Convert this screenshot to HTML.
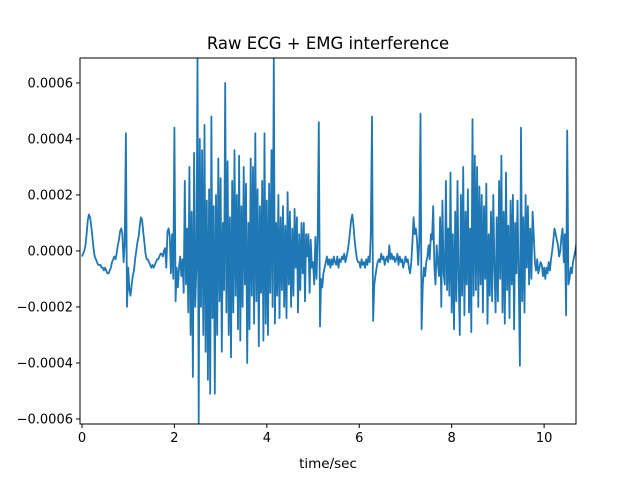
<!DOCTYPE html>
<html><head><meta charset="utf-8"><style>
body{margin:0;background:#fff}
svg{font-family:"DejaVu Sans","Liberation Sans",sans-serif}
</style></head><body>
<svg id="c" width="640" height="480">
<rect width="640" height="480" fill="#fff"/>
<text x="328" y="49" text-anchor="middle" font-size="16.5">Raw ECG + EMG interference</text>
<defs><clipPath id="cp"><rect x="80" y="58" width="496" height="366"/></clipPath></defs>
<g id="plot" clip-path="url(#cp)"></g>
<rect x="80" y="58" width="496" height="366" fill="none" stroke="#000" stroke-width="1"/>
<g id="axes"></g>
<text x="328" y="468" text-anchor="middle" font-size="13.5">time/sec</text>
</svg>
<script>
const sampleStep=0.025;
const valuesE4=[
-0.2,-0.1,0,0.2,0.6,1.1,1.3,1.2,0.9,0.5,
0.1,-0.2,-0.3,-0.4,-0.5,-0.5,-0.5,-0.6,-0.6,-0.7,
-0.6,-0.7,-0.8,-0.8,-0.7,-0.6,-0.4,-0.3,-0.2,-0.3,
-0.1,0.2,0.4,0.7,0.8,0.6,-0.4,0.2,4.2,-2.0,
-0.6,-1.4,-1.6,-1.2,-0.9,-0.7,-0.3,0.0,0.3,0.5,
0.9,1.2,1.1,0.7,0.3,-0.1,-0.3,-0.3,-0.4,-0.5,
-0.6,-0.5,-0.6,-0.5,-0.4,-0.3,-0.3,-0.2,-0.1,-0.1,
-0.2,0.0,0.1,-0.6,0.7,0.8,0.5,-0.8,0.6,-1.0,
4.4,-1.8,-0.6,-1.3,-0.6,-0.2,-0.9,-0.3,-1.5,2.5,
-1.2,0.8,-2.2,3.0,-3.0,1.4,-4.5,3.5,-2.0,-0.6,
6.9,-6.2,4.0,-2.0,3.6,-3.0,4.5,-3.6,1.8,-4.6,
2.2,-5.1,4.8,-2.4,1.6,-5.1,2.0,-3.0,3.3,-1.8,
2.6,-3.6,1.0,-1.4,6.0,-2.2,3.2,-3.0,1.2,-3.8,
2.5,-2.2,3.6,-1.6,2.0,-2.8,3.4,-3.2,1.6,-2.0,
3.0,-1.2,2.4,-4.0,1.0,-2.8,3.3,-1.6,3.0,-2.6,
4.2,-1.8,2.2,-3.4,1.6,-1.5,2.5,-3.2,4.2,-2.6,
1.8,-3.0,2.4,-1.5,3.6,-2.0,6.9,-2.6,1.0,-1.6,
2.0,-2.4,1.2,-1.4,1.6,-2.0,0.9,-2.4,2.1,-1.2,
1.4,-2.0,0.8,-1.6,1.5,-0.6,1.2,-2.2,0.6,-1.4,
1.0,-0.8,1.0,-1.8,0.6,-0.2,0.6,-1.5,0.4,-0.6,
-0.4,-1.2,0.5,-1.0,0.6,4.6,-2.7,-1.0,-1.3,-0.8,
-0.6,-0.4,-0.2,-0.5,-0.3,-0.6,-0.3,-0.5,-0.2,-0.4,
-0.5,-0.2,-0.6,-0.3,-0.4,-0.2,-0.3,-0.1,-0.4,-0.2,
0.0,0.3,0.7,1.1,1.3,0.9,0.4,0.0,-0.3,-0.4,
-0.4,-0.6,-0.3,-0.5,-0.4,-0.6,-0.3,-0.5,-0.2,-0.4,
0.6,4.8,-2.5,-1.2,-0.9,-0.6,-0.4,-0.3,-0.4,-0.1,
-0.3,-0.2,-0.5,-0.3,-0.2,-0.4,0.2,-0.3,-0.1,-0.3,
-0.2,-0.4,-0.3,-0.1,-0.5,-0.2,-0.4,-0.3,-0.6,-0.4,
-0.2,-0.4,-0.3,-0.6,-0.8,-0.4,0.3,1.2,0.6,0.8,
0.4,-0.5,0.3,4.9,-2.8,-1.2,-0.6,-0.9,-0.4,-0.2,
0.2,-0.3,0.6,0.4,1.6,-0.6,-1.2,0.2,-0.4,-0.9,
1.2,-2.0,1.8,-0.8,-1.2,2.5,-1.4,0.8,-1.6,2.8,
-2.2,0.6,-2.8,1.4,-1.8,2.5,-1.0,-3.0,2.0,-1.6,
3.0,-2.3,1.4,-1.2,2.2,-2.2,0.8,-2.9,4.7,-1.6,
3.4,-1.4,3.0,-2.0,2.3,-1.2,2.0,-2.2,1.6,-1.0,
2.4,-2.6,0.6,-1.6,1.4,-1.8,2.0,-0.6,-2.2,1.2,
-1.8,2.5,-1.0,3.4,-2.2,1.4,-2.6,2.8,-1.4,0.9,
-2.4,1.8,-1.2,2.0,-2.8,1.0,-0.8,1.8,-1.0,-4.1,
4.4,-1.8,1.2,-2.2,2.0,-0.6,1.6,-1.2,0.8,-1.0,
1.4,0.6,-0.4,-0.7,-0.3,-0.8,-0.6,-0.4,-0.5,-0.9,
-0.6,-1.0,-0.6,-0.8,-0.4,-0.7,-0.3,0.0,0.4,0.8,
0.6,0.4,0.2,-0.2,0.0,0.5,0.8,-0.4,0.6,-2.3,
4.3,-1.2,-1.0,-0.6,-0.8,-0.4,-0.2,0.0,0.3,0.5];
const xTicks=[0,2,4,6,8,10];
const yTicks=[-6,-4,-2,0,2,4,6];
const X0=80,X1=576,Y0=58,Y1=424,xmin=-0.043,xmax=10.69,ymin=-6.18,ymax=6.89;
const sx=t=>X0+(t-xmin)/(xmax-xmin)*(X1-X0);
const sy=v=>Y1-(v-ymin)/(ymax-ymin)*(Y1-Y0);
const NS="http://www.w3.org/2000/svg";
const plot=document.getElementById('plot'),axes=document.getElementById('axes');
let d="";
valuesE4.forEach((v,i)=>{d+=(i?"L":"M")+sx(i*sampleStep).toFixed(1)+","+sy(v).toFixed(1);});
const p=document.createElementNS(NS,'path');
p.setAttribute('d',d);p.setAttribute('fill','none');p.setAttribute('stroke','#1f77b4');p.setAttribute('stroke-width','1.8');p.setAttribute('stroke-linejoin','round');


plot.appendChild(p);
xTicks.forEach(v=>{
 const x=sx(v);
 const l=document.createElementNS(NS,'line');
 l.setAttribute('x1',x);l.setAttribute('x2',x);l.setAttribute('y1',Y1);l.setAttribute('y2',Y1+4);l.setAttribute('stroke','#000');
 
 
 axes.appendChild(l);
 const tx=document.createElementNS(NS,'text');
 tx.setAttribute('x',x);tx.setAttribute('y',Y1+18);tx.setAttribute('text-anchor','middle');tx.setAttribute('font-size','13');
 tx.textContent=v;
 
 
 axes.appendChild(tx);
});
yTicks.forEach(v=>{
 const y=sy(v);
 const l=document.createElementNS(NS,'line');
 l.setAttribute('x1',X0-4);l.setAttribute('x2',X0);l.setAttribute('y1',y);l.setAttribute('y2',y);l.setAttribute('stroke','#000');
 
 
 axes.appendChild(l);
 const tx=document.createElementNS(NS,'text');
 tx.setAttribute('x',X0-7);tx.setAttribute('y',y+4.5);tx.setAttribute('text-anchor','end');tx.setAttribute('font-size','13');
 tx.textContent=(v<0?"\u2212":"")+(Math.abs(v)/1e4).toFixed(4);
 
 
 axes.appendChild(tx);
});
</script>
</body></html>
